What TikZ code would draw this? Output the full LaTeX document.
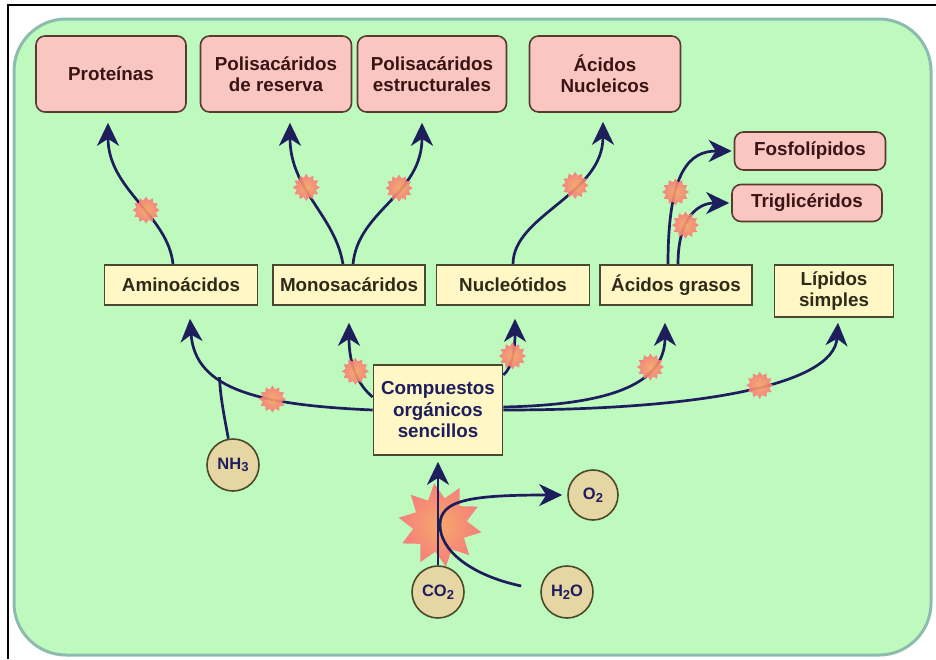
\documentclass[tikz,border=0pt]{standalone}
\usepackage{fontspec}
\setmainfont{Liberation Sans}
\usetikzlibrary{arrows.meta,shapes.geometric}
\definecolor{bgreen}{HTML}{BEFABE}
\definecolor{gborder}{HTML}{8DBCAE}
\definecolor{pinkf}{HTML}{F9C6C2}
\definecolor{pinkd}{HTML}{5A3A30}
\definecolor{ptext}{HTML}{3A1414}
\definecolor{yelf}{HTML}{FFF8C6}
\definecolor{yeld}{HTML}{4A4830}
\definecolor{ytext}{HTML}{2E2A18}
\definecolor{navy}{HTML}{1E1E5C}
\definecolor{circf}{HTML}{E6D6A4}
\definecolor{circd}{HTML}{4A4A2A}
\definecolor{burst}{HTML}{F8787A}
\definecolor{burstin}{HTML}{F9A466}
\newcommand\bxfont{\fontsize{18.8}{20.5}\selectfont\bfseries}
\newcommand\mlfont{\fontsize{16.5}{18}\selectfont\bfseries}
\newcommand\sbs[1]{\raisebox{-2.5pt}{\fontsize{13}{13}\selectfont #1}}
\begin{document}
\begin{tikzpicture}[x=1pt,y=-1pt,
  pbox/.style={draw=pinkd, fill=pinkf, line width=1.6pt, rounded corners=9pt, align=center, font=\bxfont, text=ptext, inner sep=0pt},
  ybox/.style={draw=yeld, fill=yelf, line width=1.6pt, align=center, font=\bxfont, text=ytext, inner sep=0pt},
  mol/.style={circle, draw=circd, fill=circf, line width=1.6pt, minimum size=52pt, inner sep=0pt, font=\mlfont, text=navy},
  conn/.style={draw=navy, line width=2.7pt},
  arr/.style={conn, -{Stealth[length=23pt,width=22pt,inset=7pt]}},
  sburst/.style={star, star points=12, star point ratio=1.35, minimum size=27pt, inner sep=0pt, shade, shading=radial, inner color=burstin, outer color=burst, opacity=0.9},
  bigburst/.style={star, star points=10, star point ratio=1.55, minimum size=84pt, inner sep=0pt, shade, shading=radial, inner color=burstin, outer color=burst, opacity=0.95}
]
\useasboundingbox (0,0) rectangle (936,659);
\fill[white] (0,0) rectangle (936,659);
\draw[black, line width=2pt] (8,659) -- (8,5) -- (936,5);
\draw[fill=bgreen, draw=gborder, line width=3pt, rounded corners=52pt] (14,19) rectangle (931,655);

% top products
\node[pbox, minimum width=150pt, minimum height=76pt] (prot) at (111,74) {Proteínas};
\node[pbox, minimum width=151pt, minimum height=76pt] (polres) at (276,74) {Polisacáridos\\de reserva};
\node[pbox, minimum width=149pt, minimum height=76pt] (polest) at (432,74) {Polisacáridos\\estructurales};
\node[pbox, minimum width=151pt, minimum height=76pt] (acnuc) at (605,74) {Ácidos\\Nucleicos};
\node[pbox, minimum width=151pt, minimum height=38pt] (fosf) at (810,151) {Fosfolípidos};
\node[pbox, minimum width=150pt, minimum height=37pt] (trig) at (807,203) {Triglicéridos};

% monomers
\node[ybox, minimum width=153pt, minimum height=40pt] (amino) at (181,285) {Aminoácidos};
\node[ybox, minimum width=152pt, minimum height=40pt] (mono) at (349,285) {Monosacáridos};
\node[ybox, minimum width=153pt, minimum height=40pt] (nucl) at (513,285) {Nucleótidos};
\node[ybox, minimum width=152pt, minimum height=40pt] (acgr) at (676,285) {Ácidos grasos};
\node[ybox, minimum width=119pt, minimum height=52pt] (lip) at (834,291) {Lípidos\\simples};
\node[ybox, minimum width=129pt, minimum height=90pt, text=navy, font=\fontsize{18.8}{21.5}\selectfont\bfseries] (comp) at (438,410) {Compuestos\\orgánicos\\sencillos};

% small molecules
\node[mol] (nh3) at (233,465) {NH\sbs{3}};
\node[mol] (co2) at (438,592) {CO\sbs{2}};
\node[mol] (h2o) at (567,592) {H\sbs{2}O};
\node[mol, minimum size=50pt] (o2) at (593,495) {O\sbs{2}};

% photosynthesis burst
\node[bigburst, rotate=8] (big) at (440,525) {};

% connectors upward
\draw[arr] ([xshift=-8pt]amino.north) .. controls (168,215) and (108,190) .. node[sburst, pos=0.42] (s1) {} ([shift={(-3pt,-10pt)}]prot.south);
\draw[arr] ([xshift=-6pt]mono.north) .. controls (335,215) and (290,190) .. node[sburst, pos=0.6] (s2) {} ([shift={(14pt,-10pt)}]polres.south);
\draw[arr] ([xshift=4pt]mono.north) .. controls (358,210) and (422,195) .. node[sburst, pos=0.6] (s3) {} ([shift={(-10pt,-10pt)}]polest.south);
\draw[arr] (nucl.north) .. controls (513,215) and (603,195) .. node[sburst, pos=0.63] (s4) {} ([shift={(-2pt,-9pt)}]acnuc.south);
\draw[arr] ([xshift=-8pt]acgr.north) .. controls (668,170) and (690,151) .. node[sburst, pos=0.34] (s5) {} ([xshift=-2pt]fosf.west);
\draw[arr] ([xshift=2pt]acgr.north) .. controls (678,215) and (700,203) .. node[sburst, pos=0.35] (s6) {} ([xshift=-2pt]trig.west);

% from compuestos
\draw[arr] (comp.west) .. controls (260,405) and (195,390) .. node[sburst, pos=0.35] (s7) {} coordinate[pos=0.63] (j) ([shift={(9pt,-13pt)}]amino.south);
\draw[conn] (nh3.100) .. controls (224,415) and (220,395) .. (j);
\draw[arr] ([yshift=13pt]comp.west) .. controls (358,385) and (349,365) .. node[sburst, pos=0.5] (s8) {} ([yshift=-17pt]mono.south);
\draw[arr] ([yshift=35pt]comp.east) .. controls (512,368) and (515,350) .. node[sburst, pos=0.5] (s9) {} ([shift={(2pt,-13pt)}]nucl.south);
\draw[arr] ([yshift=3pt]comp.east) .. controls (600,405) and (665,388) .. node[sburst, pos=0.72] (s10) {} ([shift={(-11pt,-17pt)}]acgr.south);
\draw[arr] (comp.east) .. controls (700,410) and (834,385) .. node[sburst, pos=0.55] (s11) {} ([shift={(4pt,-5pt)}]lip.south);

% photosynthesis
\draw[arr] (co2.north) -- ([yshift=-6pt]comp.south);
\draw[arr] ([shift={(-19pt,6pt)}]h2o.west) .. controls (470,575) and (440,550) .. (440,525) .. controls (440,500) and (470,495) .. ([xshift=-5pt]o2.west);
\end{tikzpicture}
\end{document}
